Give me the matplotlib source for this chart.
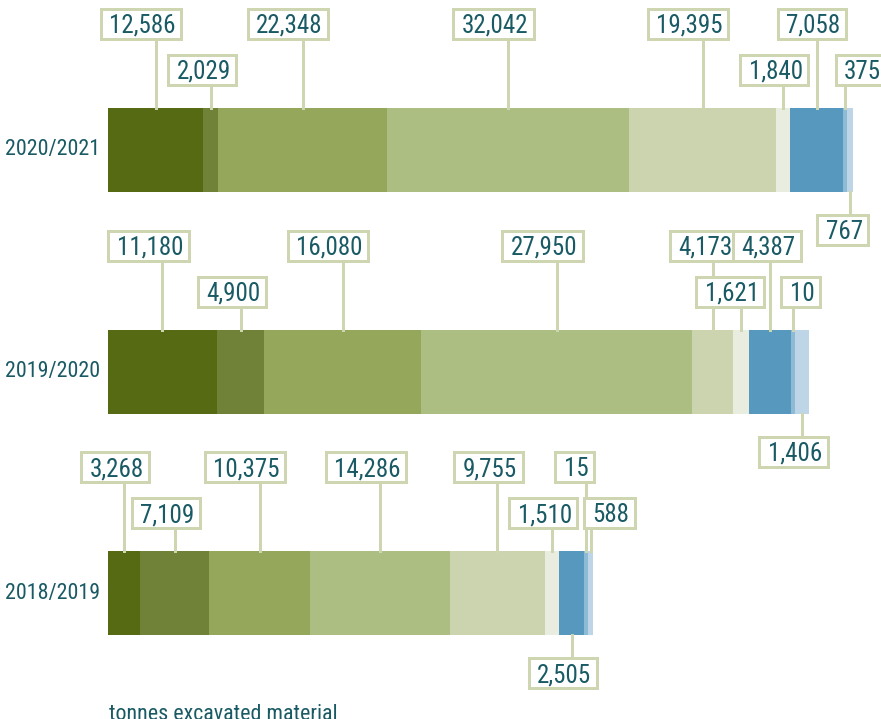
import numpy as np
import matplotlib
matplotlib.use('Agg')
import matplotlib.pyplot as plt
from matplotlib.patches import Rectangle
from matplotlib.lines import Line2D
from matplotlib.transforms import IdentityTransform, offset_copy

plt.rcParams['font.family'] = ['Roboto Condensed', 'Archivo Narrow', 'PT Sans Narrow',
                               'Liberation Sans Narrow', 'DejaVu Sans']

# data: tonnes excavated material per year, segments left to right
years = ['2020/2021', '2019/2020', '2018/2019']
values_2021 = [12586, 2029, 22348, 32042, 19395, 1840, 7058, 375, 767]
values_2020 = [11180, 4900, 16080, 27950, 4173, 1621, 4387, 10, 1406]
values_2019 = [3268, 7109, 10375, 14286, 9755, 1510, 2505, 15, 588]
colors = ['#556a12', '#6f8237', '#94a75b', '#adbe83', '#cbd4ae',
          '#e9eddf', '#5799be', '#8dbad5', '#bdd5e6']

# label layout: row of each callout (t = top, m = middle, b = below bar)
rows_2021 = ['t', 'm', 't', 't', 't', 'm', 't', 'm', 'b']
rows_2020 = ['t', 'm', 't', 't', 't', 'm', 't', 'm', 'b']
rows_2019 = ['t', 'm', 't', 't', 't', 'm', 'b', 't', 'm']
# where the text ends, in pixels right of the leader line
shift_2021 = [20, 20, 20, 20, 20, 20, 24, 36, 13]
shift_2020 = [21, 20, 20, 21, 20, 18, 25, 21, 20]
shift_2019 = [20, 20, 20, 21, 20, 20, 20, 3, 39]

# each bar has its own scale in the original
xmax_list = [102300, 79500, 79300]
bar_tops = [108, 330, 551]

W, H = 881.0, 719.0
bar_h = 84
text_col = '#195a64'
box_col = '#cdd6b0'
lw = 3 * 72 / 100.0
label_size = 18
year_size = 15.8

fig = plt.figure(figsize=(W / 100, H / 100), dpi=100)

all_vals = [values_2021, values_2020, values_2019]
all_rows = [rows_2021, rows_2020, rows_2019]
all_shift = [shift_2021, shift_2020, shift_2019]

labels = []
for i in range(3):
    vals = np.array(all_vals[i], dtype=float)
    xmax = xmax_list[i]
    top = bar_tops[i]
    ax = fig.add_axes([108 / W, (H - top - bar_h) / H, 773 / W, bar_h / H])
    # tiny segments get a minimum visible width
    shown = np.maximum(vals, xmax * 0.005)
    lefts = np.concatenate([[0], np.cumsum(shown)[:-1]])
    ax.barh(0, shown, left=lefts, height=1, color=colors, linewidth=0)
    ax.set_xlim(0, xmax)
    ax.set_ylim(-0.5, 0.5)
    ax.axis('off')

    ax.text(0, 0.5, years[i], transform=offset_copy(ax.transAxes, fig, x=-8, units='dots'),
            ha='right', va='center', fontsize=year_size, color=text_col)

    mids = lefts + shown / 2
    px = ax.transData.transform(np.column_stack([mids, np.zeros_like(mids)]))[:, 0]
    bar_top = H - top
    bar_bot = H - top - bar_h
    for j, v in enumerate(all_vals[i]):
        r = all_rows[i][j]
        if r == 't':
            cy = bar_top + 84
        elif r == 'm':
            cy = bar_top + 38
        else:
            cy = bar_bot - 38
        t = fig.text(px[j] + all_shift[i][j], cy - 9, f'{v:,}', transform=IdentityTransform(),
                     ha='right', va='baseline', fontsize=label_size, color=text_col, zorder=5)
        labels.append((t, px[j], cy, r, bar_top, bar_bot))

fig.text(109, -1, 'tonnes excavated material', transform=IdentityTransform(),
         ha='left', va='baseline', fontsize=year_size, color=text_col)

# boxes and leader lines around the value labels
fig.canvas.draw()
renderer = fig.canvas.get_renderer()
for t, x, cy, r, bar_top, bar_bot in labels:
    bb = t.get_window_extent(renderer)
    rect = Rectangle((bb.x0 - 8.5, cy - 15), (bb.x1 - bb.x0) + 14, 30,
                     transform=IdentityTransform(), facecolor='white',
                     edgecolor=box_col, linewidth=lw, zorder=4)
    fig.add_artist(rect)
    if r == 'b':
        y0, y1 = bar_bot, cy + 16.5
    else:
        y0, y1 = bar_top, cy - 16.5
    fig.add_artist(Line2D([x, x], [y0, y1], transform=IdentityTransform(),
                          color=box_col, linewidth=lw, zorder=3))

fig.savefig('out.png', dpi=100)
